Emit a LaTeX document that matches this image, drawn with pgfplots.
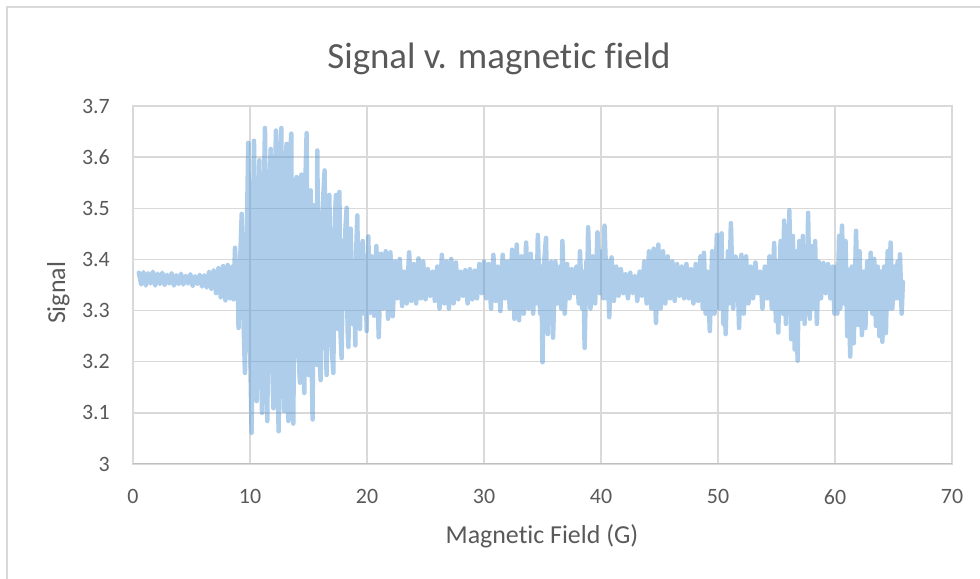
\documentclass[border=0pt]{standalone}
\usepackage{fontspec}
\setmainfont{Carlito}[Ligatures=NoCommon]
\usepackage{pgfplots}
\usepackage{pgfplotstable}
\pgfplotsset{compat=1.18}
\definecolor{gridc}{RGB}{217,217,217}
\definecolor{axc}{RGB}{191,191,191}
\definecolor{txt}{RGB}{89,89,89}
\definecolor{ser}{RGB}{91,155,213}
\pgfplotstableread{
x y
0.5 3.374
0.7 3.351
0.9 3.375
1.1 3.349
1.3 3.373
1.5 3.353
1.7 3.376
1.9 3.349
2.1 3.372
2.3 3.352
2.5 3.374
2.7 3.350
2.9 3.370
3.1 3.353
3.3 3.373
3.5 3.349
3.7 3.369
3.9 3.352
4.1 3.372
4.3 3.351
4.5 3.368
4.7 3.353
4.9 3.371
5.1 3.348
5.3 3.367
5.5 3.352
5.7 3.370
5.9 3.347
6.1 3.369
6.3 3.345
6.5 3.376
6.7 3.342
6.9 3.379
7.1 3.334
7.3 3.383
7.5 3.326
7.7 3.387
7.9 3.320
8.1 3.389
8.3 3.324
8.5 3.386
8.60 3.322
8.72 3.423
8.86 3.329
8.94 3.391
9.02 3.266
9.16 3.396
9.29 3.489
9.43 3.294
9.57 3.178
9.71 3.416
9.85 3.628
9.99 3.254
10.14 3.061
10.24 3.446
10.34 3.632
10.46 3.204
10.57 3.123
10.68 3.476
10.80 3.594
10.92 3.214
11.03 3.100
11.16 3.496
11.28 3.657
11.38 3.204
11.48 3.084
11.62 3.516
11.77 3.616
11.88 3.214
12.00 3.109
12.11 3.526
12.22 3.652
12.34 3.184
12.45 3.064
12.56 3.556
12.68 3.657
12.80 3.204
12.91 3.104
13.02 3.576
13.13 3.626
13.20 3.154
13.28 3.084
13.40 3.596
13.53 3.646
13.62 3.184
13.70 3.079
13.85 3.546
13.99 3.561
14.13 3.224
14.27 3.159
14.40 3.566
14.50 3.536
14.57 3.204
14.64 3.139
14.74 3.556
14.84 3.647
14.92 3.224
15.01 3.174
15.10 3.516
15.18 3.535
15.27 3.204
15.35 3.087
15.44 3.506
15.52 3.496
15.62 3.234
15.70 3.194
15.75 3.613
15.88 3.234
16.04 3.164
16.20 3.496
16.38 3.574
16.47 3.244
16.55 3.174
16.66 3.486
16.78 3.526
16.95 3.244
17.12 3.178
17.25 3.476
17.35 3.526
17.50 3.264
17.64 3.532
17.74 3.254
17.83 3.207
17.95 3.436
18.05 3.304
18.15 3.456
18.26 3.501
18.34 3.264
18.41 3.229
18.52 3.426
18.61 3.460
18.75 3.274
18.88 3.396
19.00 3.232
19.08 3.416
19.17 3.486
19.28 3.294
19.40 3.264
19.52 3.416
19.63 3.436
19.75 3.294
19.87 3.406
19.97 3.260
20.11 3.445
20.25 3.296
20.4 3.406
20.6 3.290
20.8 3.426
21.0 3.248
21.2 3.411
21.4 3.304
21.6 3.416
21.8 3.284
22.0 3.414
22.2 3.289
22.4 3.396
22.6 3.324
22.8 3.401
23.0 3.309
23.2 3.376
23.4 3.314
23.6 3.414
23.8 3.319
24.0 3.391
24.2 3.314
24.4 3.402
24.6 3.324
24.8 3.396
25.0 3.322
25.2 3.381
25.4 3.329
25.6 3.376
25.8 3.319
26.0 3.386
26.2 3.304
26.4 3.409
26.6 3.314
26.8 3.396
27.0 3.304
27.2 3.401
27.4 3.314
27.6 3.394
27.8 3.322
28.0 3.376
28.2 3.329
28.4 3.379
28.6 3.314
28.8 3.381
29.0 3.322
29.2 3.378
29.4 3.324
29.6 3.391
29.8 3.334
30.0 3.396
30.2 3.324
30.4 3.391
30.6 3.304
30.8 3.409
31.0 3.319
31.2 3.386
31.4 3.299
31.6 3.409
31.8 3.324
32.0 3.396
32.2 3.304
32.4 3.419
32.6 3.284
32.8 3.429
33.0 3.281
33.2 3.406
33.4 3.294
33.6 3.433
33.8 3.304
34.0 3.411
34.2 3.294
34.4 3.396
34.5 3.314
34.6 3.448
34.8 3.294
34.9 3.386
35.0 3.199
35.15 3.396
35.3 3.442
35.45 3.254
35.6 3.386
35.75 3.396
35.9 3.247
36.1 3.396
36.3 3.314
36.5 3.386
36.6 3.304
36.7 3.436
36.9 3.294
37.1 3.391
37.3 3.324
37.5 3.381
37.7 3.334
37.9 3.386
38.1 3.314
38.2 3.416
38.4 3.304
38.5 3.376
38.6 3.227
38.75 3.396
38.8 3.314
38.9 3.463
39.1 3.304
39.3 3.406
39.5 3.314
39.7 3.453
39.9 3.334
40.1 3.416
40.2 3.324
40.3 3.466
40.5 3.324
40.6 3.396
40.7 3.287
40.9 3.404
41.1 3.319
41.3 3.386
41.5 3.329
41.7 3.381
41.9 3.334
42.1 3.371
42.3 3.324
42.5 3.374
42.7 3.334
42.9 3.368
43.1 3.319
43.3 3.376
43.5 3.329
43.7 3.396
43.9 3.314
44.1 3.416
44.3 3.304
44.5 3.421
44.7 3.276
44.9 3.429
45.1 3.304
45.3 3.416
45.5 3.314
45.7 3.406
45.9 3.324
46.1 3.396
46.3 3.319
46.5 3.391
46.7 3.329
46.9 3.386
47.1 3.324
47.3 3.391
47.5 3.324
47.7 3.381
47.9 3.314
48.1 3.391
48.3 3.319
48.5 3.406
48.7 3.304
48.8 3.413
48.95 3.294
49.1 3.376
49.3 3.260
49.5 3.416
49.7 3.294
49.9 3.448
50.1 3.304
50.3 3.451
50.45 3.274
50.55 3.396
50.65 3.254
50.85 3.416
50.95 3.314
51.1 3.471
51.3 3.304
51.5 3.406
51.65 3.396
51.8 3.266
52.0 3.409
52.2 3.294
52.4 3.406
52.6 3.314
52.8 3.386
53.0 3.324
53.2 3.394
53.4 3.334
53.6 3.376
53.8 3.304
54.0 3.386
54.2 3.324
54.4 3.406
54.6 3.304
54.8 3.432
54.95 3.279
55.05 3.396
55.15 3.257
55.35 3.436
55.55 3.294
55.65 3.476
55.8 3.274
55.95 3.466
56.02 3.304
56.1 3.496
56.25 3.244
56.4 3.446
56.55 3.224
56.7 3.416
56.8 3.202
56.95 3.436
57.1 3.284
57.25 3.446
57.4 3.274
57.55 3.416
57.62 3.294
57.7 3.491
57.85 3.284
58.0 3.426
58.15 3.304
58.3 3.436
58.45 3.274
58.6 3.396
58.8 3.324
59.0 3.393
59.2 3.334
59.4 3.391
59.6 3.324
59.8 3.386
59.95 3.294
60.1 3.386
60.2 3.294
60.35 3.446
60.45 3.304
60.6 3.466
60.75 3.314
60.9 3.436
61.05 3.250
61.15 3.380
61.3 3.210
61.45 3.386
61.6 3.236
61.8 3.456
61.95 3.272
62.1 3.416
62.3 3.252
62.45 3.376
62.6 3.266
62.75 3.396
62.9 3.304
63.05 3.413
63.2 3.294
63.35 3.401
63.5 3.270
63.65 3.386
63.8 3.250
63.95 3.376
64.05 3.239
64.2 3.386
64.35 3.256
64.5 3.416
64.65 3.304
64.75 3.433
64.9 3.304
65.05 3.386
65.2 3.324
65.35 3.396
65.45 3.324
65.55 3.410
65.7 3.294
65.8 3.356
}\sigdata
\begin{document}
\begin{tikzpicture}
\path[use as bounding box] (0bp,0bp) rectangle (980bp,579bp);
\draw[gridc, line width=1.3bp] (7bp,-5bp) -- (7bp,572bp) -- (985bp,572bp);
\begin{axis}[
  at={(133bp,115bp)}, anchor=south west,
  scale only axis, width=819bp, height=358bp,
  xmin=0, xmax=70, ymin=3, ymax=3.7,
  xtick={0,10,20,30,40,50,60,70},
  xticklabels={0,10,20,30,40,50,60,70},
  ytick={3,3.1,3.2,3.3,3.4,3.5,3.6,3.7},
  yticklabels={3,3.1,3.2,3.3,3.4,3.5,3.6,3.7},
  grid=major,
  grid style={gridc, line width=1.3bp},
  axis line style={gridc, line width=1.3bp},
  major tick length=0pt,
  tick label style={font=\fontsize{22}{26}\selectfont, text=txt, inner sep=0pt},
  yticklabel style={xshift=-23bp},
  xticklabel style={yshift=-25bp},
]
\addplot[ser, draw opacity=0.5, line width=4.5bp, line join=round, line cap=round, mark=none] table[x=x,y=y]{\sigdata};
\draw[axc, line width=1.3bp] (rel axis cs:0,0) -- (rel axis cs:1,0);
\end{axis}
\node[anchor=base, font=\fontsize{37}{44}\selectfont, text=txt, inner sep=0pt] at (499bp,510bp) {Signal v. magnetic field};
\node[anchor=base, rotate=90, font=\fontsize{26}{31}\selectfont, text=txt, inner sep=0pt] at (65bp,286bp) {Signal};
\node[anchor=base, font=\fontsize{26}{31}\selectfont, text=txt, inner sep=0pt] at (542bp,36bp) {Magnetic Field (G)};
\end{tikzpicture}
\end{document}
